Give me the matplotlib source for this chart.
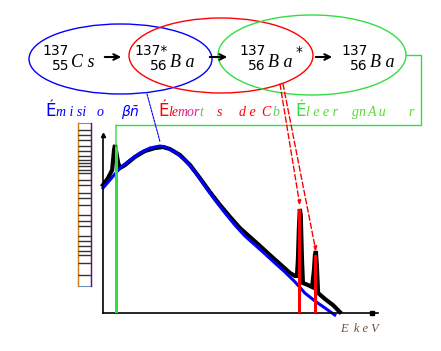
import numpy as np
import matplotlib
matplotlib.use("Agg")
import matplotlib.pyplot as plt
from matplotlib.patches import Ellipse, ConnectionPatch, Rectangle

# Spectre beta du Cs-137 (energie en keV, comptes en unites arbitraires)
E_total = [0, 16, 29, 35, 38, 41, 48, 54, 70, 101, 133, 165, 190, 212, 244, 276,
           307, 339, 371, 403, 434, 466, 498, 529, 561, 593, 609, 615, 618, 621,
           624, 627, 631, 634, 650, 663, 669, 672, 675, 678, 682, 704, 729, 751]
N_total = [128, 135, 143, 163, 168, 163, 150, 145, 148, 156, 162, 165, 166, 164,
           158, 148, 135, 121, 108, 96, 85, 76, 67, 58, 49, 40, 37, 37, 53, 83,
           104, 98, 53, 30, 28, 26, 43, 58, 62, 48, 20, 14, 8, 1]

E_beta = [0, 22, 54, 86, 117, 149, 181, 197, 228, 260, 292, 323, 355, 387, 418,
          450, 482, 514, 545, 577, 609, 640, 672, 704, 735]
N_beta = [125, 133, 145, 153, 160, 165, 167, 166, 161, 153, 141, 127, 113, 100,
          88, 77, 68, 59, 50, 41, 31, 20, 12, 5, -2]

# raies: X (Auger / X), conversion K et L
E_xray = 44
N_xray = 166
E_conv = [624, 675]
N_conv = [104, 58]

E_max = 872
N_max = 178

blue = "#0000ff"
red = "#ff0000"
green = "#33dd44"

fig = plt.figure(figsize=(4.41, 3.51), dpi=100)

# --- spectre ---
ax = fig.add_axes([103/441, 38/351, 275/441, 178/351])
ax.plot(E_total, N_total, color="black", lw=3, solid_joinstyle="miter", clip_on=False)
ax.plot(E_beta, N_beta, color=blue, lw=2.2, clip_on=False)
ax.bar([E_xray], [N_xray], width=10, color=green, zorder=3)
ax.bar(E_conv, N_conv, width=9, color=red, zorder=3)
ax.set_xlim(0, E_max)
ax.set_ylim(0, N_max)
for s in ["top", "right"]:
    ax.spines[s].set_visible(False)
ax.spines["left"].set_linewidth(1.2)
ax.spines["bottom"].set_linewidth(1.2)
ax.set_xticks([])
ax.set_yticks([])
ax.plot([0], [N_max], marker="^", ms=3, color="black", clip_on=False)
ax.plot([853], [0], marker="s", ms=3, color="black", clip_on=False)
ax.patch.set_alpha(0)

# --- schema de desintegration ---
d = fig.add_axes([0, 0, 1, 1])
d.set_xlim(0, 441)
d.set_ylim(351, 0)
d.axis("off")

d.add_patch(Ellipse((120.5, 59), 183, 70, fill=False, ec=blue, lw=1))
d.add_patch(Ellipse((221, 55.5), 184, 75, fill=False, ec=red, lw=1))
d.add_patch(Ellipse((312, 55), 188, 80, fill=False, ec=green, lw=1))

num = dict(family="DejaVu Sans", fontsize=10, color="black")
sym = dict(family="Liberation Serif", style="italic", fontsize=13, color="black")

def nuclide(x, top, bottom, name, star=""):
    d.text(x, 55, top, ha="right", va="baseline", **num)
    d.text(x, 70, bottom, ha="right", va="baseline", **num)
    d.text(x + 2, 67, name, ha="left", va="baseline", **sym)
    if star:
        d.text(x + 30, 56, star, ha="left", va="baseline", **num)

nuclide(69, "137", "55", "C s")
nuclide(168, "137*", "56", "B a")
nuclide(266, "137", "56", "B a", "*")
nuclide(368, "137", "56", "B a")

for x0, x1 in [(102, 124), (207, 230), (313, 335)]:
    d.annotate("", xy=(x1, 57), xytext=(x0, 57),
               arrowprops=dict(arrowstyle="->", lw=1.5, color="black", mutation_scale=10))

# etiquettes
lab = dict(family="Liberation Serif", style="italic", fontsize=10, va="baseline")
big = dict(family="DejaVu Sans", fontsize=12, va="baseline")
d.text(45, 116, "É", color=blue, **big)
for x, t in [(56, "m i si"), (97, "o"), (121, r"$\beta\bar{n}$")]:
    d.text(x, 116, t, color=blue, **lab)
d.text(158, 116, "É", color=red, **big)
for x, t, c in [(168, "le", red), (178, "mor", "#dd2288"), (199, "t", "#66cc44"),
                (217, "s", red), (239, "d e", red), (261, "C", red), (272, "b", "#66cc66")]:
    d.text(x, 116, t, color=c, **lab)
d.text(295, 116, "É", color=green, **big)
for x, t in [(306, "l e e r"), (352, "gn"), (368, "A u"), (408, "r")]:
    d.text(x, 116, t, color="#55dd33", **lab)

d.text(340, 332, "E  k e V", family="Liberation Serif", style="italic",
       fontsize=9, color="#6a5040", va="baseline")

# boite de gauche (etiquette d'axe illisible)
d.add_patch(Rectangle((78, 123), 13, 163, fill=False, ec="#7090c0", lw=0.8))
d.plot([78, 78], [123, 286], color="#d08020", lw=1)
d.plot([91, 91], [123, 286], color="#800080", lw=1)
rows = [130, 135, 140, 146, 151, 156, 160, 163, 166, 170, 173, 180, 185, 193,
        198, 205, 215, 221, 226, 236, 241, 246, 251, 255, 263, 275]
d.hlines(rows, 78, 91, color="#333333", lw=1)

# liaisons vers le spectre
i_pk = int(np.argmax(N_beta))
con = ConnectionPatch(xyA=(147, 94), coordsA="data", axesA=d,
                      xyB=(E_beta[i_pk], N_beta[i_pk] + 4), coordsB="data", axesB=ax,
                      color=blue, lw=0.8, ls=(0, (2, 1)))
fig.add_artist(con)

for x0, e, n in zip([280, 283], E_conv, N_conv):
    con = ConnectionPatch(xyA=(x0, 84), coordsA="data", axesA=d,
                          xyB=(e, n + 4), coordsB="data", axesB=ax,
                          color=red, lw=1, ls=(0, (4, 2)),
                          arrowstyle="-|>", mutation_scale=6)
    fig.add_artist(con)

d.plot([406, 421, 421, 116], [55, 55, 125, 125], color=green, lw=1)
con = ConnectionPatch(xyA=(116, 125), coordsA="data", axesA=d,
                      xyB=(E_xray - 3, N_xray), coordsB="data", axesB=ax,
                      color=green, lw=1)
fig.add_artist(con)

fig.savefig("out.png", dpi=100)
